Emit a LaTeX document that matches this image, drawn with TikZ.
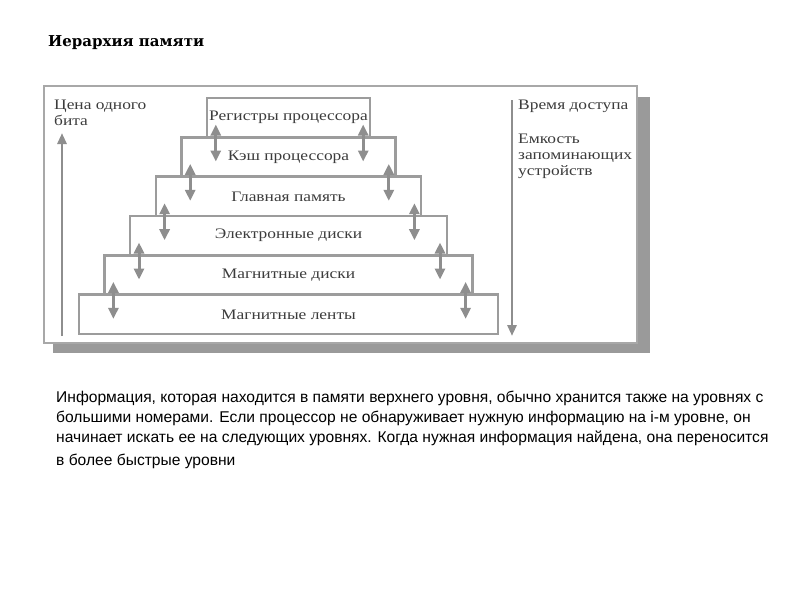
\documentclass[tikz,border=0pt]{standalone}
\usepackage{fontspec}
\setmainfont{Liberation Serif}
\newfontfamily\titlefont{DejaVu Serif}
\newfontfamily\parafont{Liberation Sans}
\newfontfamily\diagfont[FakeStretch=1.2]{Liberation Serif}
\usetikzlibrary{arrows.meta,calc}
\definecolor{shadowgray}{HTML}{9A9A9A}
\definecolor{framegray}{HTML}{A8A8A8}
\definecolor{linegray}{HTML}{9C9C9C}
\definecolor{arrowgray}{HTML}{8E8E8E}
\definecolor{textgray}{HTML}{3C3C3C}
\tikzset{
  levelbox/.style={draw=linegray, line width=2.4pt, fill=white, inner sep=0pt,
    minimum height=39.33pt, text=textgray,
    font=\diagfont\fontsize{14.5}{16}\selectfont},
  lbl/.style={inner sep=0pt, text=textgray, font=\diagfont\fontsize{14.5}{16}\selectfont},
  dblarrow/.style={{Triangle[length=11pt,width=10pt]}-{Triangle[length=11pt,width=10pt]},
    line width=3pt, draw=arrowgray},
  bigarrow/.style={-{Triangle[length=11pt,width=9pt]}, line width=2.8pt, draw=arrowgray},
  para/.style={inner sep=0pt, anchor=base west, text=black,
    font=\parafont\fontsize{15.6}{18}\selectfont}
}
\begin{document}
\begin{tikzpicture}[x=1pt,y=-1pt]
\useasboundingbox (0,0) rectangle (800,600);
\fill[white] (0,0) rectangle (800,600);
% title
\node[anchor=base west, inner sep=0pt, font=\titlefont\bfseries\fontsize{15}{18}\selectfont] (title) at (48,46) {Иерархия памяти};
% frame with shadow
\fill[shadowgray] (53,97) rectangle (650,353);
\draw[framegray, line width=2pt, fill=white] (44,86) rectangle (637,343);
% levels
\node[levelbox, minimum width=163pt]   (b1) at (288.5,117.65) {Регистры процессора};
\node[levelbox, minimum width=214.2pt] (b2) at (288.5,157)    {Кэш процессора};
\node[levelbox, minimum width=265.4pt] (b3) at (288.5,196.35) {Главная память};
\node[levelbox, minimum width=316.6pt] (b4) at (288.5,235.65) {Электронные диски};
\node[levelbox, minimum width=367.8pt] (b5) at (288.5,275)    {Магнитные диски};
\node[levelbox, minimum width=419pt]   (b6) at (288.5,314.35) {Магнитные ленты};
% exchange arrows between levels
\foreach \u in {b1,b2,b3,b4,b5}{
  \draw[dblarrow] ($(\u.south west)+(10,-14)$) -- ($(\u.south west)+(10,23)$);
  \draw[dblarrow] ($(\u.south east)+(-8,-14)$) -- ($(\u.south east)+(-8,23)$);
}
% axes
\coordinate (costbot) at (62,336);
\coordinate (costtop) at (62,133);
\draw[bigarrow] (costbot) -- (costtop);
\coordinate (timetop) at (512,100);
\coordinate (timebot) at (512,336);
\draw[bigarrow] (timetop) -- (timebot);
% axis labels
\node[lbl, anchor=base west] (cost1) at (54,109) {Цена одного};
\node[lbl, anchor=base west] (cost2) at (54,125) {бита};
\node[lbl, anchor=base west] (time1) at (518,109) {Время доступа};
\node[lbl, anchor=base west] (cap1) at (518,143) {Емкость};
\node[lbl, anchor=base west] (cap2) at (518,159) {запоминающих};
\node[lbl, anchor=base west] (cap3) at (518,175) {устройств};
% paragraph
\node[para] (p1) at (56,402) {Информация, которая находится в памяти верхнего уровня, обычно хранится также на уровнях с};
\node[para] (p2) at (56,422) {большими номерами. Если процессор не обнаруживает нужную информацию на i-м уровне, он};
\node[para] (p3) at (56,442) {начинает искать ее на следующих уровнях. Когда нужная информация найдена, она переносится};
\node[para] (p4) at (56,465) {в более быстрые уровни};
\end{tikzpicture}
\end{document}
